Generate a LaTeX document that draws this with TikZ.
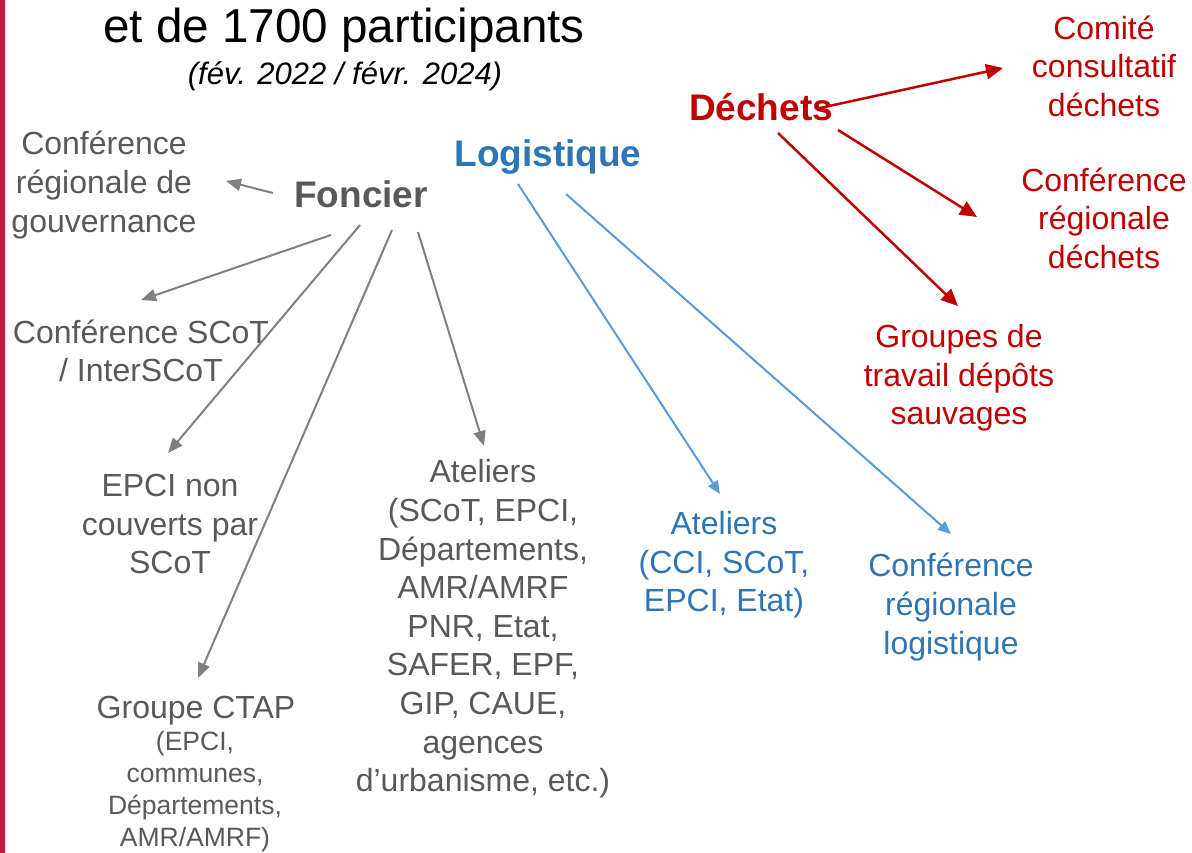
\documentclass[tikz,border=0pt]{standalone}
\usepackage{fontspec}
\setmainfont{Liberation Sans}
\usetikzlibrary{arrows.meta}

\definecolor{sidebar}{RGB}{196,26,58}
\definecolor{textgray}{HTML}{595959}
\definecolor{arrowgray}{HTML}{808080}
\definecolor{bluetext}{HTML}{2E75B6}
\definecolor{blueline}{HTML}{5B9BD5}
\definecolor{redmain}{HTML}{C00000}

\begin{document}
\begin{tikzpicture}[x=1pt, y=-1pt,
    box/.style={align=center, inner sep=0pt, font=\fontsize{32}{38.6}\selectfont},
    gbox/.style={box, text=textgray},
    bluebox/.style={box, text=bluetext},
    redbox/.style={box, text=redmain},
    head/.style={inner sep=0pt, font=\bfseries\fontsize{37}{44}\selectfont},
    garrow/.style={draw=arrowgray, line width=2pt, -{Triangle[length=15pt,width=12pt]}},
    barrow/.style={draw=blueline, line width=2pt, -{Triangle[length=13pt,width=11pt]}},
    rarrow/.style={draw=redmain, line width=2.5pt, -{Triangle[length=17pt,width=15pt]}}]

    % =========================================
    % === Cadre et titre ===
    % =========================================
    \fill[white] (0,0) rectangle (1192,853);
    \useasboundingbox (0,0) rectangle (1192,853);
    \fill[sidebar] (0,0) rectangle (5,853);

    \node[inner sep=0pt, font=\fontsize{47.6}{57}\selectfont] (titre) at (344,30) {et de 1700 participants};
    \node[inner sep=0pt, font=\itshape\fontsize{31}{37}\selectfont] (periode) at (345,76) {(fév. 2022 / févr. 2024)};

    % =========================================
    % === Foncier (gris) ===
    % =========================================
    \node[head, text=textgray] (foncier) at (361,194) {Foncier};

    \node[gbox] (gouv) at (104,185) {Conférence\\ régionale de\\ gouvernance};
    \node[gbox] (scot) at (141,351) {Conférence SCoT\\ / InterSCoT};
    \node[gbox] (epci) at (170,524) {EPCI non\\ couverts par\\ SCoT};
    \node[gbox] (ctap) at (196,711) {Groupe CTAP};
    \node[gbox, font=\fontsize{26.5}{32}\selectfont] (ctapsub) at (195,792) {(EPCI,\\ communes,\\ Départements,\\ AMR/AMRF)};
    \node[gbox] (ateliersf) at (483,629) {Ateliers\\ (SCoT, EPCI,\\ Départements,\\ AMR/AMRF\\ PNR, Etat,\\ SAFER, EPF,\\ GIP, CAUE,\\ agences\\ d’urbanisme, etc.)};

    % Fleches du foncier
    \draw[garrow] ([shift={(-88,-1)}]foncier.center) -- ([shift={(122,-4)}]gouv.center);
    \draw[garrow] ([shift={(-30,41)}]foncier.center) -- ([shift={(0,-51)}]scot.center);
    \draw[garrow] ([shift={(-1,31)}]foncier.center) -- ([shift={(-2,-71)}]epci.center);
    \draw[garrow] ([shift={(31,36)}]foncier.center) -- ([shift={(2,-33)}]ctap.center);
    \draw[garrow] ([shift={(57,38)}]foncier.center) -- ([shift={(1,-183)}]ateliersf.center);

    % =========================================
    % === Logistique (bleu) ===
    % =========================================
    \node[head, text=bluetext] (logistique) at (548,157) {Logistique};

    \node[bluebox] (ateliersl) at (724,565) {Ateliers\\ (CCI, SCoT,\\ EPCI, Etat)};
    \node[bluebox] (conflog) at (951,607) {Conférence\\ régionale\\ logistique};

    % Fleches de la logistique
    \draw[barrow] ([shift={(-30,27)}]logistique.center) -- ([shift={(-4,-71)}]ateliersl.center);
    \draw[barrow] ([shift={(18,37)}]logistique.center) -- ([shift={(0,-73)}]conflog.center);

    % =========================================
    % === Dechets (rouge) ===
    % =========================================
    \node[head, text=redmain] (dechets) at (761,107) {Déchets};

    \node[redbox] (comite) at (1104,66) {Comité\\ consultatif\\ déchets};
    \node[redbox] (confdech) at (1104,218) {Conférence\\ régionale\\ déchets};
    \node[redbox] (depots) at (959,378) {Groupes de\\ travail dépôts\\ sauvages};

    % Fleches des dechets
    \draw[rarrow] ([shift={(59,1)}]dechets.center) -- ([shift={(-101,2)}]comite.center);
    \draw[rarrow] ([shift={(77,23)}]dechets.center) -- ([shift={(-127,-1)}]confdech.center);
    \draw[rarrow] ([shift={(17,26)}]dechets.center) -- ([shift={(-1,-72)}]depots.center);

\end{tikzpicture}
\end{document}
